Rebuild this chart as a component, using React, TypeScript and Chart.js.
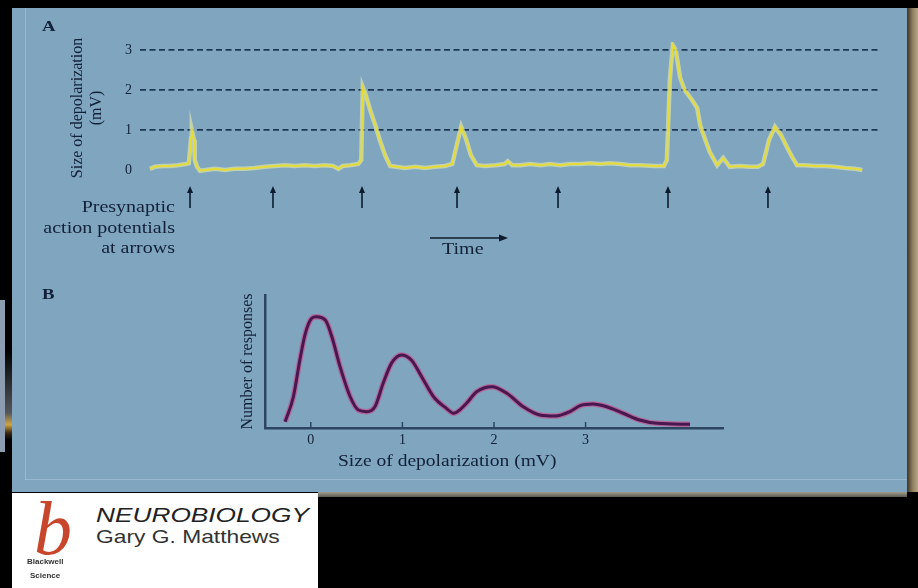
import React, { useEffect, useRef } from "react";
import { Chart, registerables } from "chart.js";

Chart.register(...registerables);

// ---- Panel A: membrane potential trace ----
const traceTime = [1.35, 2.0, 3.0, 4.1, 5.1, 6.2, 6.6, 6.9, 7.0, 7.3, 7.4, 7.7, 8.1, 8.9, 10.1, 11.5, 12.8, 14.2, 15.5, 16.9, 18.2, 19.6, 20.9, 22.3, 23.6, 25.0, 26.1, 26.8, 27.4, 28.4, 29.5, 29.9, 30.1, 30.5, 31.1, 31.8, 32.4, 33.1, 33.8, 34.6, 35.8, 37.2, 38.5, 39.9, 41.2, 42.2, 42.8, 43.4, 44.1, 44.7, 45.5, 46.6, 48.0, 49.3, 49.7, 50.3, 51.4, 52.7, 54.1, 55.4, 56.8, 58.1, 59.5, 60.8, 62.2, 63.5, 64.9, 66.2, 67.6, 69.6, 70.8, 71.2, 71.6, 72.0, 72.4, 73.0, 73.6, 74.6, 75.3, 75.7, 76.4, 77.0, 78.0, 78.8, 79.7, 81.1, 82.4, 83.5, 84.2, 85.0, 85.8, 86.6, 87.4, 88.2, 88.8, 89.9, 91.2, 92.6, 93.9, 95.3, 96.6, 97.6];
const traceMv = [0.03, 0.08, 0.10, 0.10, 0.12, 0.15, 0.17, 0.80, 1.00, 0.75, 0.25, 0.08, -0.02, 0.00, 0.03, 0.00, 0.03, 0.03, 0.05, 0.08, 0.10, 0.12, 0.10, 0.12, 0.10, 0.12, 0.10, 0.03, 0.10, 0.12, 0.15, 0.25, 2.07, 1.88, 1.50, 1.12, 0.75, 0.38, 0.10, 0.08, 0.05, 0.08, 0.05, 0.08, 0.10, 0.15, 0.62, 1.08, 0.75, 0.38, 0.12, 0.10, 0.12, 0.15, 0.22, 0.12, 0.12, 0.15, 0.12, 0.15, 0.12, 0.15, 0.15, 0.17, 0.15, 0.17, 0.15, 0.12, 0.12, 0.10, 0.10, 0.25, 2.25, 3.12, 3.00, 2.30, 2.00, 1.75, 1.55, 1.12, 0.75, 0.45, 0.12, 0.30, 0.08, 0.10, 0.08, 0.08, 0.15, 0.75, 1.08, 0.88, 0.58, 0.30, 0.12, 0.12, 0.10, 0.10, 0.08, 0.05, 0.03, 0.00];
const arrowTimes = [6.76, 17.97, 30.0, 42.84, 56.49, 71.35, 84.86];
const yTicksA = [0, 1, 2, 3];

// ---- Panel B: amplitude histogram ----
const sizeMv = [-0.28, -0.19, -0.12, -0.06, 0.01, 0.06, 0.16, 0.23, 0.32, 0.43, 0.52, 0.61, 0.70, 0.79, 0.88, 0.99, 1.10, 1.21, 1.34, 1.48, 1.56, 1.70, 1.81, 1.98, 2.14, 2.32, 2.50, 2.67, 2.83, 2.94, 3.08, 3.23, 3.41, 3.59, 3.78, 4.14];
const responseCount = [4.7, 23.5, 51, 71, 82.5, 83.7, 81, 68.6, 46, 23.5, 13.5, 12.3, 16, 33.6, 48.6, 54.9, 51, 38.6, 23.5, 14.8, 11.1, 18.6, 27.3, 31.1, 26.1, 16, 9.8, 9.0, 12.3, 16.8, 18, 16, 11.1, 6, 3.5, 2.8];
const xTicksB = [0, 1, 2, 3];

const SERIF = "'Liberation Serif', 'DejaVu Serif', serif";
const SANS = "'Liberation Sans', Arial, sans-serif";
const INK = "#122038";

const arrowPlugin = {
  id: "presynapticArrows",
  afterDraw(chart: any) {
    const { ctx, chartArea } = chart;
    const x = chart.scales.x;
    ctx.save();
    ctx.strokeStyle = "#0e1b2d";
    ctx.fillStyle = "#0e1b2d";
    ctx.lineWidth = 1.6;
    arrowTimes.forEach((t) => {
      const px = x.getPixelForValue(t);
      const top = chartArea.bottom + 12;
      ctx.beginPath();
      ctx.moveTo(px, top + 5);
      ctx.lineTo(px, top + 22);
      ctx.stroke();
      ctx.beginPath();
      ctx.moveTo(px, top);
      ctx.lineTo(px - 3, top + 7);
      ctx.lineTo(px + 3, top + 7);
      ctx.closePath();
      ctx.fill();
    });
    ctx.restore();
  },
};

const innerTicksPlugin = {
  id: "innerTicks",
  afterDraw(chart: any) {
    const { ctx, chartArea } = chart;
    const x = chart.scales.x;
    ctx.save();
    ctx.strokeStyle = "#2c4560";
    ctx.lineWidth = 1.5;
    xTicksB.forEach((v) => {
      const px = x.getPixelForValue(v);
      ctx.beginPath();
      ctx.moveTo(px, chartArea.bottom);
      ctx.lineTo(px, chartArea.bottom - 6);
      ctx.stroke();
    });
    ctx.restore();
  },
};

export default function App() {
  const refA = useRef<HTMLCanvasElement>(null);
  const refB = useRef<HTMLCanvasElement>(null);

  useEffect(() => {
    const makeA = () => traceTime.map((t, i) => ({ x: t, y: traceMv[i] }));
    const makeB = () => sizeMv.map((s, i) => ({ x: s, y: responseCount[i] }));

    // Note: lower dataset index is drawn on top in Chart.js
    const chartA = new Chart(refA.current!, {
      type: "line",
      data: {
        datasets: [
          { data: makeA(), borderColor: "#e6dc38", borderWidth: 2, pointRadius: 0, tension: 0 },
          { data: makeA(), borderColor: "rgba(232,236,178,0.6)", borderWidth: 4.5, pointRadius: 0, tension: 0 },
        ],
      },
      options: {
        animation: false,
        responsive: true,
        maintainAspectRatio: false,
        layout: { padding: { top: 42, right: 38, bottom: 96, left: 0 } },
        plugins: { legend: { display: false }, tooltip: { enabled: false } },
        scales: {
          x: { type: "linear", min: 0, max: 100, display: false },
          y: {
            type: "linear",
            min: -0.1,
            max: 3.2,
            afterBuildTicks: (s: any) => {
              s.ticks = yTicksA.map((v) => ({ value: v }));
            },
            afterFit: (s: any) => {
              s.width = 140;
            },
            grid: {
              color: (c: any) => (c.tick && c.tick.value === 0 ? "rgba(0,0,0,0)" : "#1c3654"),
              lineWidth: 1.7,
              drawTicks: false,
            },
            border: { display: false, dash: [6, 3.5] },
            ticks: { padding: 8, color: INK, font: { family: SERIF, size: 14 } },
            title: {
              display: true,
              text: ["Size of depolarization", "(mV)"],
              color: INK,
              font: { family: SERIF, size: 16, lineHeight: 1.2 },
              padding: { top: 68, bottom: 0 },
            },
          },
        },
      },
      plugins: [arrowPlugin],
    } as any);

    const chartB = new Chart(refB.current!, {
      type: "line",
      data: {
        datasets: [
          { data: makeB(), borderColor: "#4a1650", borderWidth: 3, pointRadius: 0, cubicInterpolationMode: "monotone" },
          { data: makeB(), borderColor: "rgba(196,80,140,0.7)", borderWidth: 5.5, pointRadius: 0, cubicInterpolationMode: "monotone" },
        ],
      },
      options: {
        animation: false,
        responsive: true,
        maintainAspectRatio: false,
        layout: { padding: { top: 25, right: 195, bottom: 0, left: 0 } },
        plugins: { legend: { display: false }, tooltip: { enabled: false } },
        scales: {
          x: {
            type: "linear",
            min: -0.5,
            max: 4.5,
            afterBuildTicks: (s: any) => {
              s.ticks = xTicksB.map((v) => ({ value: v }));
            },
            afterFit: (s: any) => {
              s.height = 62;
            },
            grid: { display: false, drawTicks: false },
            border: { display: true, color: "#2c4560", width: 2.5 },
            ticks: { padding: 4, color: INK, font: { family: SERIF, size: 14 }, maxRotation: 0, autoSkip: false },
          },
          y: {
            type: "linear",
            min: 0,
            max: 100,
            afterFit: (s: any) => {
              s.width = 265;
            },
            ticks: { display: false },
            grid: { display: false, drawTicks: false },
            border: { display: true, color: "#2c4560", width: 2.5 },
            title: {
              display: true,
              text: "Number of responses",
              color: INK,
              font: { family: SERIF, size: 16, lineHeight: 1.2 },
              padding: { top: 238, bottom: 0 },
            },
          },
        },
      },
      plugins: [innerTicksPlugin],
    } as any);

    return () => {
      chartA.destroy();
      chartB.destroy();
    };
  }, []);

  const abs = (s: React.CSSProperties): React.CSSProperties => ({ position: "absolute", ...s });
  const stretch: React.CSSProperties = { transform: "scaleX(1.25)", transformOrigin: "left center", whiteSpace: "nowrap" };
  const rstretch: React.CSSProperties = { transform: "scaleX(1.25)", transformOrigin: "right center", whiteSpace: "nowrap" };

  return (
    <div style={{ position: "fixed", left: 0, top: 0, width: 918, height: 588, background: "#000", overflow: "hidden", fontFamily: SERIF, color: INK }}>
      {/* left scrap strip */}
      <div style={abs({ left: 0, top: 300, width: 5, height: 152, background: "#8c9db2" })} />
      <div style={abs({ left: 5, top: 350, width: 7, height: 90, background: "linear-gradient(to bottom, #000 0%, #55575c 70%, #d2a440 83%, #3a2a10 92%, #000 100%)" })} />
      {/* panel */}
      <div style={abs({ left: 12, top: 8, width: 895, height: 484, background: "#7fa5bf" })} />
      <div style={abs({ left: 25, top: 8, width: 1, height: 472, background: "rgba(200,222,238,0.35)" })} />
      <div style={abs({ left: 25, top: 479, width: 882, height: 1, background: "rgba(200,222,238,0.35)" })} />
      {/* right frame */}
      <div style={abs({ left: 907, top: 8, width: 11, height: 484, background: "linear-gradient(to right, #3e3424, #8e7e60, #b8a888)" })} />
      {/* bottom strip */}
      <div style={abs({ left: 318, top: 492, width: 589, height: 5, background: "linear-gradient(to bottom, #a09e90, #5c5a50)" })} />

      {/* Chart A */}
      <div style={abs({ left: 0, top: 0, width: 918, height: 270 })}>
        <canvas ref={refA} />
      </div>
      {/* Chart B */}
      <div style={abs({ left: 0, top: 270, width: 918, height: 220 })}>
        <canvas ref={refB} />
      </div>

      {/* Panel labels */}
      <div style={abs({ left: 42, top: 18, fontSize: 15, fontWeight: "bold", ...stretch })}>A</div>
      <div style={abs({ left: 42, top: 286, fontSize: 15, fontWeight: "bold", ...stretch })}>B</div>

      {/* Presynaptic label */}
      <div style={abs({ left: 40, top: 197, width: 135, textAlign: "right", fontSize: 16, lineHeight: "20.5px" })}>
        <div style={rstretch}>Presynaptic</div>
        <div style={rstretch}>action potentials</div>
        <div style={rstretch}>at arrows</div>
      </div>

      {/* Time arrow */}
      <svg style={abs({ left: 428, top: 232, width: 82, height: 12 })} width={82} height={12}>
        <line x1={2} y1={6} x2={72} y2={6} stroke="#0e1b2d" strokeWidth={1.6} />
        <polygon points="80,6 71,2.5 71,9.5" fill="#0e1b2d" />
      </svg>
      <div style={abs({ left: 442, top: 240, fontSize: 16, ...stretch })}>Time</div>

      {/* Panel B x-axis title */}
      <div style={abs({ left: 338, top: 452, fontSize: 16, ...stretch, transform: "scaleX(1.22)" })}>Size of depolarization (mV)</div>

      {/* Publisher box */}
      <div style={abs({ left: 12, top: 493, width: 306, height: 95, background: "#fff" })} />
      <div style={abs({ left: 34, top: 483, fontSize: 76, fontStyle: "italic", color: "#c8462c", fontFamily: SERIF, lineHeight: "90px" })}>b</div>
      <div style={abs({ left: 27, top: 557, fontSize: 8, fontWeight: "bold", fontFamily: SANS, color: "#333" })}>Blackwell</div>
      <div style={abs({ left: 30, top: 571, fontSize: 8, fontWeight: "bold", fontFamily: SANS, color: "#333" })}>Science</div>
      <div style={abs({ left: 96, top: 502, fontSize: 21, fontStyle: "italic", fontFamily: SANS, color: "#222", lineHeight: "26px", ...stretch, transform: "scaleX(1.25)" })}>NEUROBIOLOGY</div>
      <div style={abs({ left: 96, top: 525, fontSize: 19, fontFamily: SANS, color: "#333", lineHeight: "24px", ...stretch, transform: "scaleX(1.2)" })}>Gary G. Matthews</div>
    </div>
  );
}
